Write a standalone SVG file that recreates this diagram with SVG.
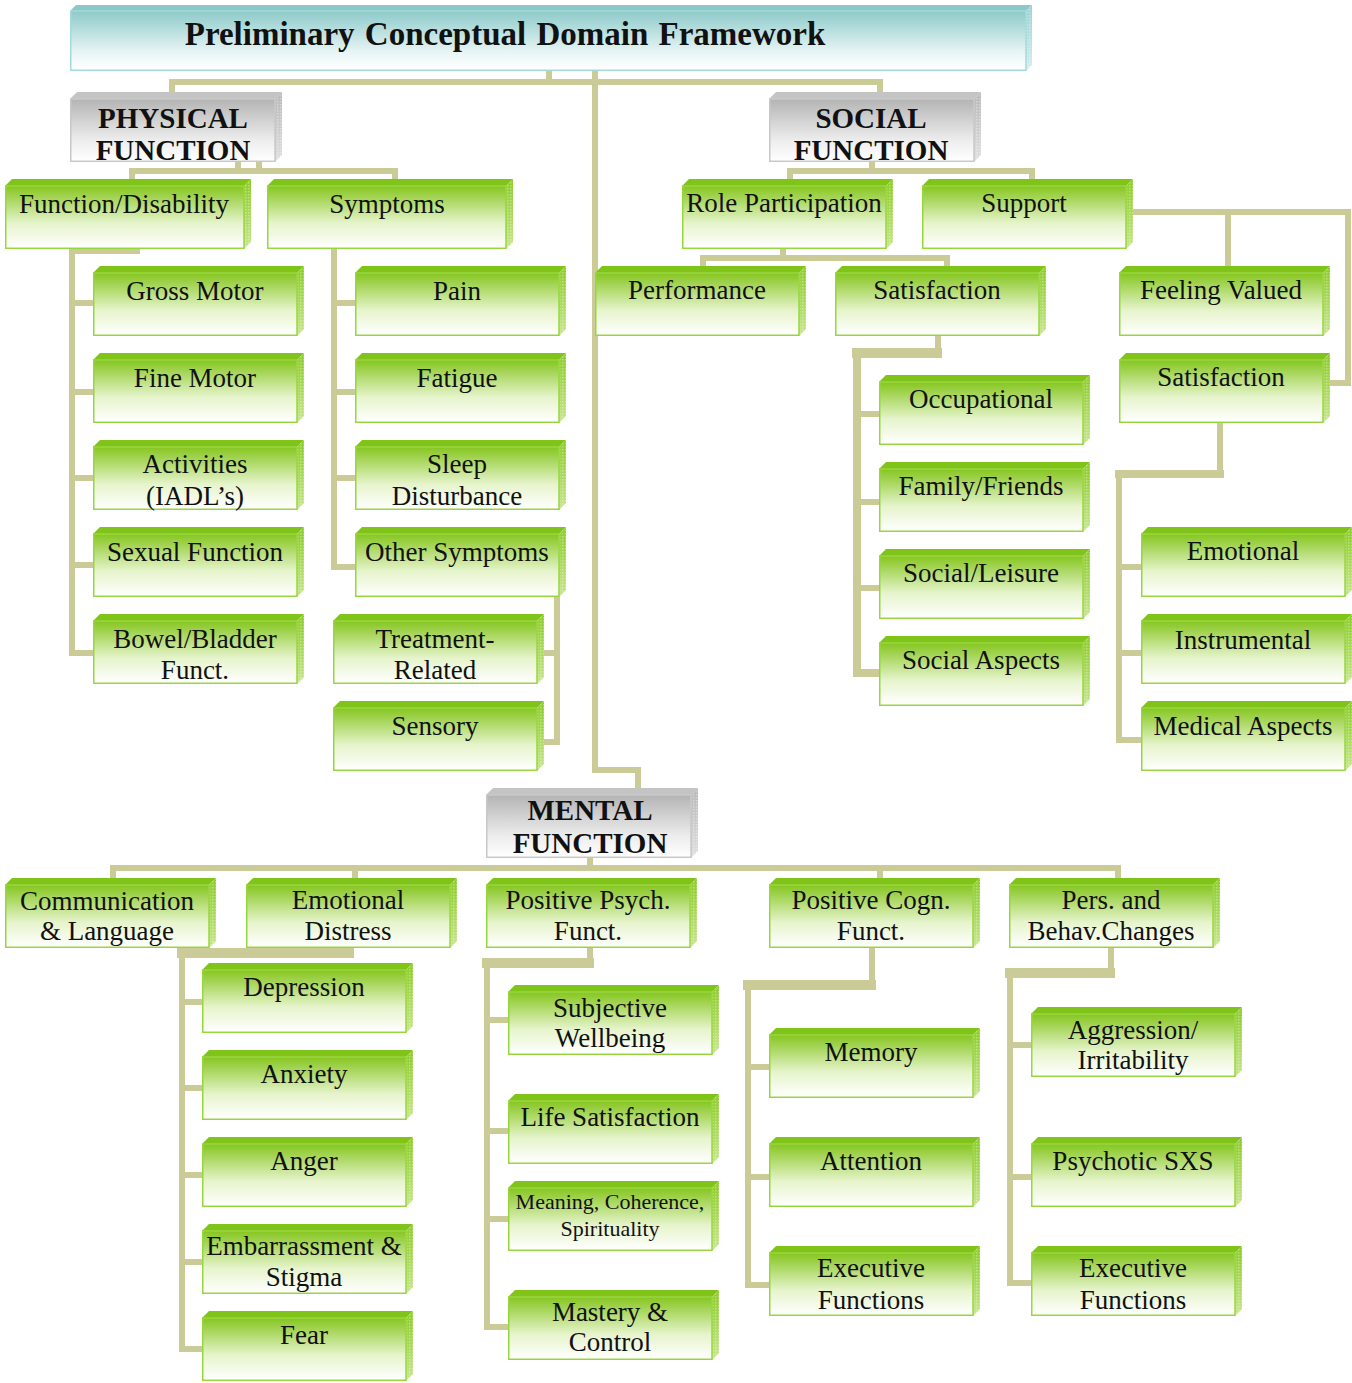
<svg xmlns="http://www.w3.org/2000/svg" width="1352" height="1383" viewBox="0 0 1352 1383">
<defs>
<linearGradient id="gF" x1="0" y1="0" x2="0" y2="1"><stop offset="0" stop-color="#86c620"/><stop offset="0.6" stop-color="#e6f4cc"/><stop offset="1" stop-color="#ffffff"/></linearGradient>
<linearGradient id="gS" x1="0" y1="0" x2="0" y2="1"><stop offset="0" stop-color="#8ccc28"/><stop offset="1" stop-color="#c8e68e"/></linearGradient>
<linearGradient id="yF" x1="0" y1="0" x2="0" y2="1"><stop offset="0" stop-color="#b4b4b4"/><stop offset="0.65" stop-color="#ececec"/><stop offset="1" stop-color="#ffffff"/></linearGradient>
<linearGradient id="yS" x1="0" y1="0" x2="0" y2="1"><stop offset="0" stop-color="#b8b8b8"/><stop offset="1" stop-color="#e0e0e0"/></linearGradient>
<linearGradient id="tF" x1="0" y1="0" x2="0" y2="1"><stop offset="0" stop-color="#8ecaca"/><stop offset="0.7" stop-color="#e8f5f5"/><stop offset="1" stop-color="#ffffff"/></linearGradient>
<linearGradient id="tS" x1="0" y1="0" x2="0" y2="1"><stop offset="0" stop-color="#9cd2d2"/><stop offset="1" stop-color="#d6eeee"/></linearGradient>
<pattern id="tex" width="3" height="3" patternUnits="userSpaceOnUse"><rect width="1.5" height="1.5" fill="#ffffff" fill-opacity="0.35"/></pattern>
<g id="gb">
<polygon fill="#80c41a" points="0,7 7,0 211,0 204,7"/>
<polygon fill="url(#gS)" points="204,7 211,0 211,63 204,70"/>
<polygon fill="url(#tex)" points="204,7 211,0 211,63 204,70"/>
<rect x="0.75" y="7" width="203.25" height="62.25" fill="url(#gF)" stroke="#98d640" stroke-width="1.5"/>
</g>
<g id="gbw">
<polygon fill="#80c41a" points="0,7 7,0 246,0 239,7"/>
<polygon fill="url(#gS)" points="239,7 246,0 246,63 239,70"/>
<polygon fill="url(#tex)" points="239,7 246,0 246,63 239,70"/>
<rect x="0.75" y="7" width="238.25" height="62.25" fill="url(#gF)" stroke="#98d640" stroke-width="1.5"/>
</g>
<g id="yb">
<polygon fill="#c4c4c4" points="0,7 7,0 212,0 205,7"/>
<polygon fill="url(#yS)" points="205,7 212,0 212,63 205,70"/>
<polygon fill="url(#tex)" points="205,7 212,0 212,63 205,70"/>
<rect x="0.75" y="7" width="204.25" height="62.25" fill="url(#yF)" stroke="#c8c8c8" stroke-width="1.5"/>
</g>
</defs>
<style>
.c{fill:none;stroke:#cbcb98;stroke-width:6;stroke-linejoin:miter}
.e{fill:none;stroke:#cbcb98;stroke-width:10}
.m{fill:none;stroke:#cbcb98;stroke-width:8;stroke-linejoin:miter}
text{font-family:"Liberation Serif","Times New Roman",serif;font-size:27px;fill:#111;text-anchor:middle}
.h{font-weight:bold;font-size:29px}
.ti{font-weight:bold;font-size:33px;word-spacing:2px}
.s{font-size:22px}
</style>
<rect width="1352" height="1383" fill="#ffffff"/>
<g id="connectors">
<path class="c" d="M549,71 V82"/>
<path class="c" d="M172,92 V82 H880 V92"/>
<path class="c" d="M595,71 V770 H638 V788"/>
<path class="c" d="M238,162 V171 M259,162 V171"/>
<path class="c" d="M132,179 V171 H395 V179"/>
<path class="c" d="M140,251 H72 V653 H93 M72,303 H93 M72,392 H93 M72,478 H93 M72,565 H93"/>
<path class="c" d="M334,249 V567 H355 M334,303 H355 M334,392 H355 M334,478 H355"/>
<path class="c" d="M557,597 V742 H544 M557,653 H544"/>
<path class="c" d="M872,162 V171"/>
<path class="c" d="M790,179 V171 H1032 V179"/>
<path class="c" d="M783,249 V258"/>
<path class="c" d="M703,266 V258 H947 V266"/>
<path class="c" d="M938,336 V353"/>
<path class="e" d="M942,353 H852"/>
<path class="m" d="M857,349 V673 H879"/>
<path class="c" d="M857,414 H879 M857,502 H879 M857,588 H879"/>
<path class="c" d="M1133,212 H1348 V383 H1330 M1228,212 V266"/>
<path class="c" d="M1220,423 V474"/>
<path class="m" d="M1224,474 H1115"/>
<path class="c" d="M1119,470 V740 H1141 M1119,567 H1141 M1119,653 H1141"/>
<path class="c" d="M590,858 V868"/>
<path class="c" d="M113,878 V868 H1118 V878 M355,868 V878 M880,868 V878"/>
<path class="c" d="M350,948 V953"/>
<path class="e" d="M354,953 H177"/>
<path class="c" d="M182,949 V1349 H202 M182,1002 H202 M182,1088 H202 M182,1175 H202 M182,1262 H202"/>
<path class="c" d="M590,948 V963"/>
<path class="e" d="M594,963 H482"/>
<path class="c" d="M487,959 V1327 H508 M487,1020 H508 M487,1131 H508 M487,1219 H508"/>
<path class="c" d="M872,948 V985"/>
<path class="e" d="M876,985 H743"/>
<path class="c" d="M748,981 V1285 H769 M748,1067 H769 M748,1177 H769"/>
<path class="c" d="M1111,948 V973"/>
<path class="e" d="M1115,973 H1005"/>
<path class="c" d="M1010,969 V1283 H1031 M1010,1045 H1031 M1010,1177 H1031"/>
</g>
<g id="n-title">
<polygon fill="#8cc8c8" points="70,11 76,5 1032,5 1026,11"/>
<polygon fill="url(#tS)" points="1026,11 1032,5 1032,65 1026,71"/>
<polygon fill="url(#tex)" points="1026,11 1032,5 1032,65 1026,71"/>
<rect x="70.75" y="11" width="955.25" height="59.25" fill="url(#tF)" stroke="#a4dada" stroke-width="1.5"/>
<text class="ti" x="505" y="45">Preliminary Conceptual Domain Framework</text>
</g>
<g id="n-physical"><use href="#yb" x="70" y="92"/><text class="h" x="173" y="128">PHYSICAL</text><text class="h" x="173" y="160">FUNCTION</text></g>
<g id="n-social"><use href="#yb" x="769" y="92"/><text class="h" x="871" y="128">SOCIAL</text><text class="h" x="871" y="160">FUNCTION</text></g>
<g id="n-mental"><use href="#yb" x="486" y="788"/><text class="h" x="590" y="820">MENTAL</text><text class="h" x="590" y="853">FUNCTION</text></g>
<g id="n-fd"><use href="#gbw" x="5" y="179"/><text x="124" y="213">Function/Disability</text></g>
<g id="n-sym"><use href="#gbw" x="267" y="179"/><text x="387" y="213">Symptoms</text></g>
<g id="n-gross"><use href="#gb" x="93" y="266"/><text x="195" y="300">Gross Motor</text></g>
<g id="n-fine"><use href="#gb" x="93" y="353"/><text x="195" y="387">Fine Motor</text></g>
<g id="n-act"><use href="#gb" x="93" y="440"/><text x="195" y="473">Activities</text><text x="195" y="505">(IADL’s)</text></g>
<g id="n-sex"><use href="#gb" x="93" y="527"/><text x="195" y="561">Sexual Function</text></g>
<g id="n-bowel"><use href="#gb" x="93" y="614"/><text x="195" y="648">Bowel/Bladder</text><text x="195" y="679">Funct.</text></g>
<g id="n-pain"><use href="#gb" x="355" y="266"/><text x="457" y="300">Pain</text></g>
<g id="n-fatigue"><use href="#gb" x="355" y="353"/><text x="457" y="387">Fatigue</text></g>
<g id="n-sleep"><use href="#gb" x="355" y="440"/><text x="457" y="473">Sleep</text><text x="457" y="505">Disturbance</text></g>
<g id="n-other"><use href="#gb" x="355" y="527"/><text x="457" y="561">Other Symptoms</text></g>
<g id="n-treat"><use href="#gb" x="333" y="614"/><text x="435" y="648">Treatment-</text><text x="435" y="679">Related</text></g>
<g id="n-sensory"><use href="#gb" x="333" y="701"/><text x="435" y="735">Sensory</text></g>
<g id="n-role"><use href="#gb" x="682" y="179"/><text x="784" y="212">Role Participation</text></g>
<g id="n-support"><use href="#gb" x="922" y="179"/><text x="1024" y="212">Support</text></g>
<g id="n-perf"><use href="#gb" x="595" y="266"/><text x="697" y="299">Performance</text></g>
<g id="n-sat1"><use href="#gb" x="835" y="266"/><text x="937" y="299">Satisfaction</text></g>
<g id="n-occ"><use href="#gb" x="879" y="375"/><text x="981" y="408">Occupational</text></g>
<g id="n-fam"><use href="#gb" x="879" y="462"/><text x="981" y="495">Family/Friends</text></g>
<g id="n-socl"><use href="#gb" x="879" y="549"/><text x="981" y="582">Social/Leisure</text></g>
<g id="n-soca"><use href="#gb" x="879" y="636"/><text x="981" y="669">Social Aspects</text></g>
<g id="n-feel"><use href="#gb" x="1119" y="266"/><text x="1221" y="299">Feeling Valued</text></g>
<g id="n-sat2"><use href="#gb" x="1119" y="353"/><text x="1221" y="386">Satisfaction</text></g>
<g id="n-emo"><use href="#gb" x="1141" y="527"/><text x="1243" y="560">Emotional</text></g>
<g id="n-inst"><use href="#gb" x="1141" y="614"/><text x="1243" y="649">Instrumental</text></g>
<g id="n-med"><use href="#gb" x="1141" y="701"/><text x="1243" y="735">Medical Aspects</text></g>
<g id="n-comm"><use href="#gb" x="5" y="878"/><text x="107" y="910">Communication</text><text x="107" y="940">&amp; Language</text></g>
<g id="n-ed"><use href="#gb" x="246" y="878"/><text x="348" y="909">Emotional</text><text x="348" y="940">Distress</text></g>
<g id="n-pp"><use href="#gb" x="486" y="878"/><text x="588" y="909">Positive Psych.</text><text x="588" y="940">Funct.</text></g>
<g id="n-pc"><use href="#gb" x="769" y="878"/><text x="871" y="909">Positive Cogn.</text><text x="871" y="940">Funct.</text></g>
<g id="n-pb"><use href="#gb" x="1009" y="878"/><text x="1111" y="909">Pers. and</text><text x="1111" y="940">Behav.Changes</text></g>
<g id="n-dep"><use href="#gb" x="202" y="963"/><text x="304" y="996">Depression</text></g>
<g id="n-anx"><use href="#gb" x="202" y="1050"/><text x="304" y="1083">Anxiety</text></g>
<g id="n-anger"><use href="#gb" x="202" y="1137"/><text x="304" y="1170">Anger</text></g>
<g id="n-emb"><use href="#gb" x="202" y="1224"/><text x="304" y="1255">Embarrassment &amp;</text><text x="304" y="1286">Stigma</text></g>
<g id="n-fear"><use href="#gb" x="202" y="1311"/><text x="304" y="1344">Fear</text></g>
<g id="n-sw"><use href="#gb" x="508" y="985"/><text x="610" y="1017">Subjective</text><text x="610" y="1047">Wellbeing</text></g>
<g id="n-ls"><use href="#gb" x="508" y="1094"/><text x="610" y="1126">Life Satisfaction</text></g>
<g id="n-mcs"><use href="#gb" x="508" y="1181"/><text class="s" x="610" y="1209">Meaning, Coherence,</text><text class="s" x="610" y="1236">Spirituality</text></g>
<g id="n-mc"><use href="#gb" x="508" y="1290"/><text x="610" y="1321">Mastery &amp;</text><text x="610" y="1351">Control</text></g>
<g id="n-mem"><use href="#gb" x="769" y="1028"/><text x="871" y="1061">Memory</text></g>
<g id="n-att"><use href="#gb" x="769" y="1137"/><text x="871" y="1170">Attention</text></g>
<g id="n-ef1"><use href="#gb" x="769" y="1246"/><text x="871" y="1277">Executive</text><text x="871" y="1309">Functions</text></g>
<g id="n-agg"><use href="#gb" x="1031" y="1007"/><text x="1133" y="1039">Aggression/</text><text x="1133" y="1069">Irritability</text></g>
<g id="n-psy"><use href="#gb" x="1031" y="1137"/><text x="1133" y="1170">Psychotic SXS</text></g>
<g id="n-ef2"><use href="#gb" x="1031" y="1246"/><text x="1133" y="1277">Executive</text><text x="1133" y="1309">Functions</text></g>
</svg>
